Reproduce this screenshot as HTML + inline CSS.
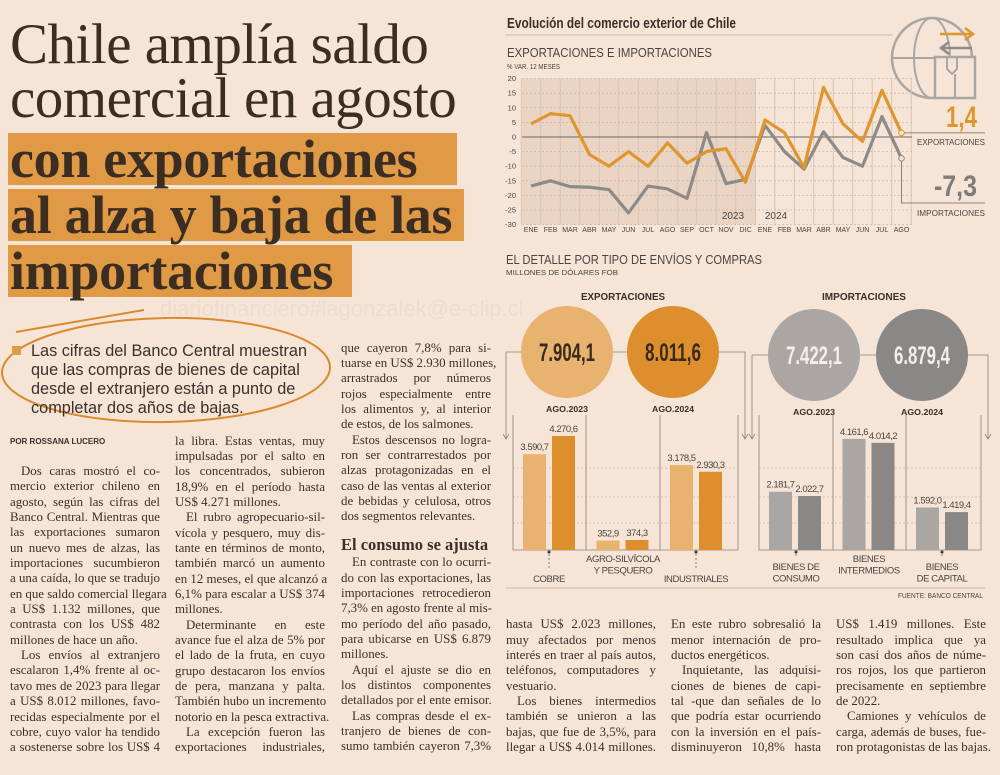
<!DOCTYPE html>
<html><head><meta charset="utf-8">
<style>
body{margin:0;width:1000px;height:775px;background:#f6e4d7;overflow:hidden;position:relative;font-family:"Liberation Serif",serif;color:#3a2f28}
.h{position:absolute;left:10px;white-space:nowrap;font-family:"Liberation Serif",serif}
.hl{font-size:57px;font-weight:400;color:#3b2d22;letter-spacing:-0.5px}
.hb{font-size:54px;font-weight:700;color:#3b2d22;background:#e09a45;padding:0 0 0 2px;margin-left:-2px;line-height:52px;height:52px;letter-spacing:-0.3px;box-sizing:border-box}
.col{position:absolute;width:150px;font-size:12.9px;color:#3a3029}
.col div{height:15.35px;line-height:15.35px;white-space:nowrap;overflow:visible}
.col .j{text-align:justify;text-align-last:justify}
.col .l{text-align:left}
.col .i{padding-left:11px}
.lead{position:absolute;left:31px;font-family:"Liberation Sans",sans-serif;font-size:16.3px;color:#3a3029;white-space:nowrap;line-height:19px}
svg text{font-family:"Liberation Sans",sans-serif}
</style></head><body>
<div class="h hl" style="top:12px">Chile amplía saldo</div>
<div class="h hl" style="top:66px">comercial en agosto</div>
<div class="h hb" style="top:133px;width:449px">con exportaciones</div>
<div class="h hb" style="top:189px;width:456px">al alza y baja de las</div>
<div class="h hb" style="top:245px;width:344px">importaciones</div>
<div style="position:absolute;left:160px;top:296px;font-family:'Liberation Sans',sans-serif;font-size:22px;color:#eddcd0;white-space:nowrap">diariofinanciero#lagonzalek@e-clip.cl</div>
<svg style="position:absolute;left:0;top:0" width="500" height="440">
<ellipse cx="166" cy="370" rx="164" ry="52" fill="none" stroke="#d98a2f" stroke-width="2" transform="rotate(-1 166 370)"/>
<line x1="16" y1="332" x2="144" y2="310" stroke="#d98a2f" stroke-width="2"/>
<rect x="12" y="346" width="9" height="9" fill="#e09a45"/>
</svg>
<div class="lead" style="top:342px">Las cifras del Banco Central muestran<br>que las compras de bienes de capital<br>desde el extranjero están a punto de<br>completar dos años de bajas.</div>
<div style="position:absolute;left:10px;top:437px;font-family:'Liberation Sans',sans-serif;font-weight:700;font-size:8px;color:#3a3029">POR ROSSANA LUCERO</div>

<div class="col" style="left:10px;top:464px">
<div class="j i">Dos caras mostró el co-</div><div class="j">mercio exterior chileno en</div><div class="j">agosto, según las cifras del</div><div class="j">Banco Central. Mientras que</div><div class="j">las exportaciones sumaron</div><div class="j">un nuevo mes de alzas, las</div><div class="j">importaciones sucumbieron</div><div class="j">a una caída, lo que se tradujo</div><div class="j">en que saldo comercial llegara</div><div class="j">a US$ 1.132 millones, que</div><div class="j">contrasta con los US$ 482</div><div class="l">millones de hace un año.</div><div class="j i">Los envíos al extranjero</div><div class="j">escalaron 1,4% frente al oc-</div><div class="j">tavo mes de 2023 para llegar</div><div class="j">a US$ 8.012 millones, favo-</div><div class="j">recidas especialmente por el</div><div class="j">cobre, cuyo valor ha tendido</div><div class="j">a sostenerse sobre los US$ 4</div>
</div>
<div class="col" style="left:175px;top:433.5px">
<div class="j">la libra. Estas ventas, muy</div><div class="j">impulsadas por el salto en</div><div class="j">los concentrados, subieron</div><div class="j">18,9% en el período hasta</div><div class="l">US$ 4.271 millones.</div><div class="j i">El rubro agropecuario-sil-</div><div class="j">vícola y pesquero, muy dis-</div><div class="j">tante en términos de monto,</div><div class="j">también marcó un aumento</div><div class="j">en 12 meses, el que alcanzó a</div><div class="j">6,1% para escalar a US$ 374</div><div class="l">millones.</div><div class="j i">Determinante en este</div><div class="j">avance fue el alza de 5% por</div><div class="j">el lado de la fruta, en cuyo</div><div class="j">grupo destacaron los envíos</div><div class="j">de pera, manzana y palta.</div><div class="j">También hubo un incremento</div><div class="l">notorio en la pesca extractiva.</div><div class="j i">La excepción fueron las</div><div class="j">exportaciones industriales,</div>
</div>
<div class="col" style="left:341px;top:340.5px">
<div class="j">que cayeron 7,8% para si-</div><div class="j">tuarse en US$ 2.930 millones,</div><div class="j">arrastrados por números</div><div class="j">rojos especialmente entre</div><div class="j">los alimentos y, al interior</div><div class="l">de estos, de los salmones.</div><div class="j i">Estos descensos no logra-</div><div class="j">ron ser contrarrestados por</div><div class="j">alzas protagonizadas en el</div><div class="j">caso de las ventas al exterior</div><div class="j">de bebidas y celulosa, otros</div><div class="l">dos segmentos relevantes.</div>
<div style="height:30.7px;line-height:20px;box-sizing:border-box;font-size:16.5px;font-weight:700;display:flex;align-items:flex-end">El consumo se ajusta</div>
<div class="j i">En contraste con lo ocurri-</div><div class="j">do con las exportaciones, las</div><div class="j">importaciones retrocedieron</div><div class="j">7,3% en agosto frente al mis-</div><div class="j">mo período del año pasado,</div><div class="j">para ubicarse en US$ 6.879</div><div class="l">millones.</div><div class="j i">Aquí el ajuste se dio en</div><div class="j">los distintos componentes</div><div class="l">detallados por el ente emisor.</div><div class="j i">Las compras desde el ex-</div><div class="j">tranjero de bienes de con-</div><div class="j">sumo también cayeron 7,3%</div>
</div>
<div class="col" style="left:506px;top:617.3px">
<div class="j">hasta US$ 2.023 millones,</div><div class="j">muy afectados por menos</div><div class="j">interés en traer al país autos,</div><div class="j">teléfonos, computadores y</div><div class="l">vestuario.</div><div class="j i">Los bienes intermedios</div><div class="j">también se unieron a las</div><div class="j">bajas, que fue de 3,5%, para</div><div class="j">llegar a US$ 4.014 millones.</div>
</div>
<div class="col" style="left:671px;top:617.3px">
<div class="j">En este rubro sobresalió la</div><div class="j">menor internación de pro-</div><div class="l">ductos energéticos.</div><div class="j i">Inquietante, las adquisi-</div><div class="j">ciones de bienes de capi-</div><div class="j">tal -que dan señales de lo</div><div class="j">que podría estar ocurriendo</div><div class="j">con la inversión en el país-</div><div class="j">disminuyeron 10,8% hasta</div>
</div>
<div class="col" style="left:836px;top:617.3px">
<div class="j">US$ 1.419 millones. Este</div><div class="j">resultado implica que ya</div><div class="j">son casi dos años de núme-</div><div class="j">ros rojos, los que partieron</div><div class="j">precisamente en septiembre</div><div class="l">de 2022.</div><div class="j i">Camiones y vehículos de</div><div class="j">carga, además de buses, fue-</div><div class="j">ron protagonistas de las bajas.</div>
</div>

<svg id="g" style="position:absolute;left:0;top:0" width="1000" height="775"></svg>
<script>
const months=["ENE","FEB","MAR","ABR","MAY","JUN","JUL","AGO","SEP","OCT","NOV","DIC","ENE","FEB","MAR","ABR","MAY","JUN","JUL","AGO"];
const exportsPct=[4.5,8,7.3,-6,-10,-5,-10,-2,-9,-5,-4,-15.5,5.8,1.5,-10.5,17,4.5,-1.5,16,1.4];
const importsPct=[-16.8,-15,-17,-17.2,-18,-26,-16.8,-17.8,-21,1.5,-16,-14.5,4,-5,-11,1.8,-7,-10,7,-7.3];
const yTicks=[20,15,10,5,0,-5,-10,-15,-20,-25,-30];
const expCats=["COBRE","AGRO","INDUSTRIALES"];
const exp2023=[3590.7,352.9,3178.5];
const exp2024=[4270.6,374.3,2930.3];
const impCats=["CONSUMO","INTERMEDIOS","CAPITAL"];
const imp2023=[2181.7,4161.6,1592.0];
const imp2024=[2022.7,4014.2,1419.4];
const totals=[7904.1,8011.6,7422.1,6879.4];

const NS="http://www.w3.org/2000/svg",svg=document.getElementById('g');
function el(t,a,txt){const e=document.createElementNS(NS,t);for(const k in a)e.setAttribute(k,a[k]);if(txt!==undefined)e.textContent=txt;svg.appendChild(e);return e;}
function narrow(e,len){e.setAttribute('textLength',len);e.setAttribute('lengthAdjust','spacingAndGlyphs');return e;}
const fmt=v=>{const s=v.toFixed(1).split('.');return s[0].replace(/\B(?=(\d{3})+(?!\d))/g,'.')+','+s[1];};

let e;
e=narrow(el('text',{x:507,y:28,'font-size':15,'font-weight':700,fill:'#3a2f28'},'Evolución del comercio exterior de Chile'),229);

el('line',{x1:505,y1:35,x2:893,y2:35,stroke:'#c9b8ab','stroke-width':1});
e=narrow(el('text',{x:507,y:57,'font-size':12.5,fill:'#4a4440'},'EXPORTACIONES E IMPORTACIONES'),205);

e=narrow(el('text',{x:507,y:69,'font-size':7.5,fill:'#4a4440'},'% VAR. 12 MESES'),53);


el('circle',{cx:932,cy:58,r:40,fill:'none',stroke:'#a9a6a3','stroke-width':2.5});
el('ellipse',{cx:932,cy:58,rx:18,ry:40,fill:'none',stroke:'#a9a6a3','stroke-width':2});
el('line',{x1:892,y1:58,x2:972,y2:58,stroke:'#a9a6a3','stroke-width':2});
el('rect',{x:935,y:57,width:40,height:41,fill:'#f6e4d7',stroke:'#a9a6a3','stroke-width':2.5});
el('path',{d:'M947 57 v12 l5 5 l5 -5 v-12 M955 74 v24',fill:'none',stroke:'#a9a6a3','stroke-width':2});
el('path',{d:'M940 34 h32 M965 28 l8 6 l-8 6',fill:'none',stroke:'#e0962f','stroke-width':2.5});
el('path',{d:'M972 48 h-30 M949 42 l-8 6 l8 6',fill:'none',stroke:'#8c8b8a','stroke-width':2.5});

const x0=531,dx=19.5,yZ=137,ky=2.92;
const xL=i=>x0+i*dx, yL=v=>yZ-v*ky;
el('rect',{x:522,y:yL(20),width:234,height:yL(-30)-yL(20),fill:'#ead5c5'});
months.forEach((m,i)=>{el('line',{x1:xL(i)-dx/2,y1:yL(20),x2:xL(i)-dx/2,y2:yL(-30),stroke:'#d7c3b5','stroke-width':1});
 const t=el('text',{x:xL(i),y:232,'font-size':7,'text-anchor':'middle',fill:'#4a4440'},m);
 });
el('line',{x1:xL(19)+dx/2,y1:yL(20),x2:xL(19)+dx/2,y2:yL(-30),stroke:'#d7c3b5','stroke-width':1});
yTicks.forEach(v=>{el('line',{x1:522,y1:yL(v),x2:912,y2:yL(v),stroke:v===0?'#6e6660':'#c9b6a8','stroke-width':v===0?1:0.8,'stroke-dasharray':v===0?'':'2,2'});
 const t=el('text',{x:516,y:yL(v)+2.5,'font-size':7.5,'text-anchor':'end',fill:'#4a4440'},v);
 });
el('text',{x:733,y:219,'font-size':10,'text-anchor':'middle',fill:'#4a4440'},'2023');
el('text',{x:776,y:219,'font-size':10,'text-anchor':'middle',fill:'#4a4440'},'2024');
function line(data,col,name){const p=el('polyline',{points:data.map((v,i)=>xL(i)+','+yL(v)).join(' '),fill:'none',stroke:col,'stroke-width':3.2,'stroke-linejoin':'round'});
 
 const c=el('circle',{cx:xL(data.length-1),cy:yL(data[data.length-1]),r:2.8,fill:'#f6e4d7',stroke:col,'stroke-width':1});
 }
line(importsPct,'#8d8b89','imports-line');
line(exportsPct,'#e0962f','exports-line');
const le=exportsPct[19],li=importsPct[19];
el('line',{x1:xL(19)+3,y1:yL(le),x2:985,y2:yL(le),stroke:'#6e6660','stroke-width':0.8});
e=narrow(el('text',{x:946,y:127,'font-size':30,'font-weight':700,fill:'#e0962f'},fmt(le)),31);

narrow(el('text',{x:917,y:145,'font-size':8.5,fill:'#4a4440'},'EXPORTACIONES'),68);
el('path',{d:`M${xL(19)} ${yL(li)+3} V203 H985`,fill:'none',stroke:'#6e6660','stroke-width':0.8});
e=narrow(el('text',{x:934,y:196,'font-size':30,'font-weight':700,fill:'#7f7d7b'},fmt(li)),43);

narrow(el('text',{x:917,y:216,'font-size':8.5,fill:'#4a4440'},'IMPORTACIONES'),68);

e=narrow(el('text',{x:506,y:264,'font-size':12.5,fill:'#4a4440'},'EL DETALLE POR TIPO DE ENVÍOS Y COMPRAS'),256);

narrow(el('text',{x:506,y:275,'font-size':7.5,fill:'#4a4440'},'MILLONES DE DÓLARES FOB'),112);
narrow(el('text',{x:581,y:300,'font-size':10.5,'font-weight':700,fill:'#3a2f28'},'EXPORTACIONES'),84);
narrow(el('text',{x:822,y:300,'font-size':10.5,'font-weight':700,fill:'#3a2f28'},'IMPORTACIONES'),84);
const base=550,kb=133.5/5000,yB=v=>base-v*kb;
function panel(L,R,divs,cy,c1x,c2x,colA,colB,txtCol,tot1,tot2,nm){
 el('path',{d:`M${L-7} ${cy} V438 M${L-10} 434 l3 5 l3 -5`,fill:'none',stroke:'#8a817b','stroke-width':0.8});
 el('path',{d:`M${L-7} ${cy} H${c2x} M${c2x} ${cy} H${R+7} V438 M${R+4} 434 l3 5 l3 -5`,fill:'none',stroke:'#8a817b','stroke-width':0.8});
 [[c1x,colA,tot1,'AGO.2023'],[c2x,colB,tot2,'AGO.2024']].forEach(([cx,col,v,lab])=>{
  const c=el('circle',{cx:cx,cy:cy,r:46,fill:col});
  const t=narrow(el('text',{x:cx-28,y:cy+9,'font-size':25,'font-weight':700,fill:txtCol},fmt(v)),56);
  
  narrow(el('text',{x:cx-21,y:cy+60,'font-size':8.5,'font-weight':700,fill:'#3a2f28'},lab),42);});
 [468,497,523].forEach(y=>el('line',{x1:L,y1:y,x2:R,y2:y,stroke:'#cdb9ab','stroke-width':0.8,'stroke-dasharray':'2,2'}));
 el('path',{d:`M${L} 415 V${base} H${R} V415`,fill:'none',stroke:'#8a817b','stroke-width':0.8});
 divs.forEach(x=>el('line',{x1:x,y1:415,x2:x,y2:base,stroke:'#8a817b','stroke-width':0.8}));
}
panel(513,738,[586,660],352,567,673,'#e8b26f','#dc8f2c','#3a2a1c',totals[0],totals[1],'exports');
panel(759,981,[833,906],355,814,922,'#a9a6a3','#8a8887','#f4efeb',totals[2],totals[3],'imports');
function bars(L,w,a23,a24,colA,colB,nm){
 a23.forEach((v,i)=>{const gx=L+i*w;
  [[v,gx+10,colA,'2023'],[a24[i],gx+39,colB,'2024']].forEach(([val,x,col,yr])=>{
   const r=el('rect',{x:x,y:yB(val),width:23,height:base-yB(val),fill:col});
   
   const t=el('text',{x:x+11.5,y:yB(val)-4,'font-size':9.5,'text-anchor':'middle',fill:'#4a4440','letter-spacing':'-0.5'},fmt(val));
   });
  });}
bars(513,73.5,exp2023,exp2024,'#e8b26f','#dc8f2c','exports');
bars(759,73.5,imp2023,imp2024,'#a9a6a3','#8a8887','imports');
function catLab(x,lines,y0,tick){ if(tick){el('circle',{cx:x,cy:base+2,r:1.5,fill:'#3a2f28'});el('line',{x1:x,y1:base,x2:x,y2:y0-14,stroke:'#6e6660','stroke-width':0.8,'stroke-dasharray':'2,2'});}
 lines.forEach((s,k)=>{const t=el('text',{x:x,y:y0+k*11.5,'font-size':9.5,'text-anchor':'middle',fill:'#4a4440','letter-spacing':'-0.4'},s);});}
catLab(549,['COBRE'],582,true);
catLab(623,['AGRO-SILVÍCOLA','Y PESQUERO'],562,false);
catLab(696,['INDUSTRIALES'],582,true);
catLab(796,['BIENES DE','CONSUMO'],570,true);
catLab(869,['BIENES','INTERMEDIOS'],562,false);
catLab(942,['BIENES','DE CAPITAL'],570,true);
el('line',{x1:506,y1:588,x2:985,y2:588,stroke:'#cdb9ab','stroke-width':1});
narrow(el('text',{x:898,y:598,'font-size':7,fill:'#4a4440'},'FUENTE: BANCO CENTRAL'),85);
</script>
</body></html>
